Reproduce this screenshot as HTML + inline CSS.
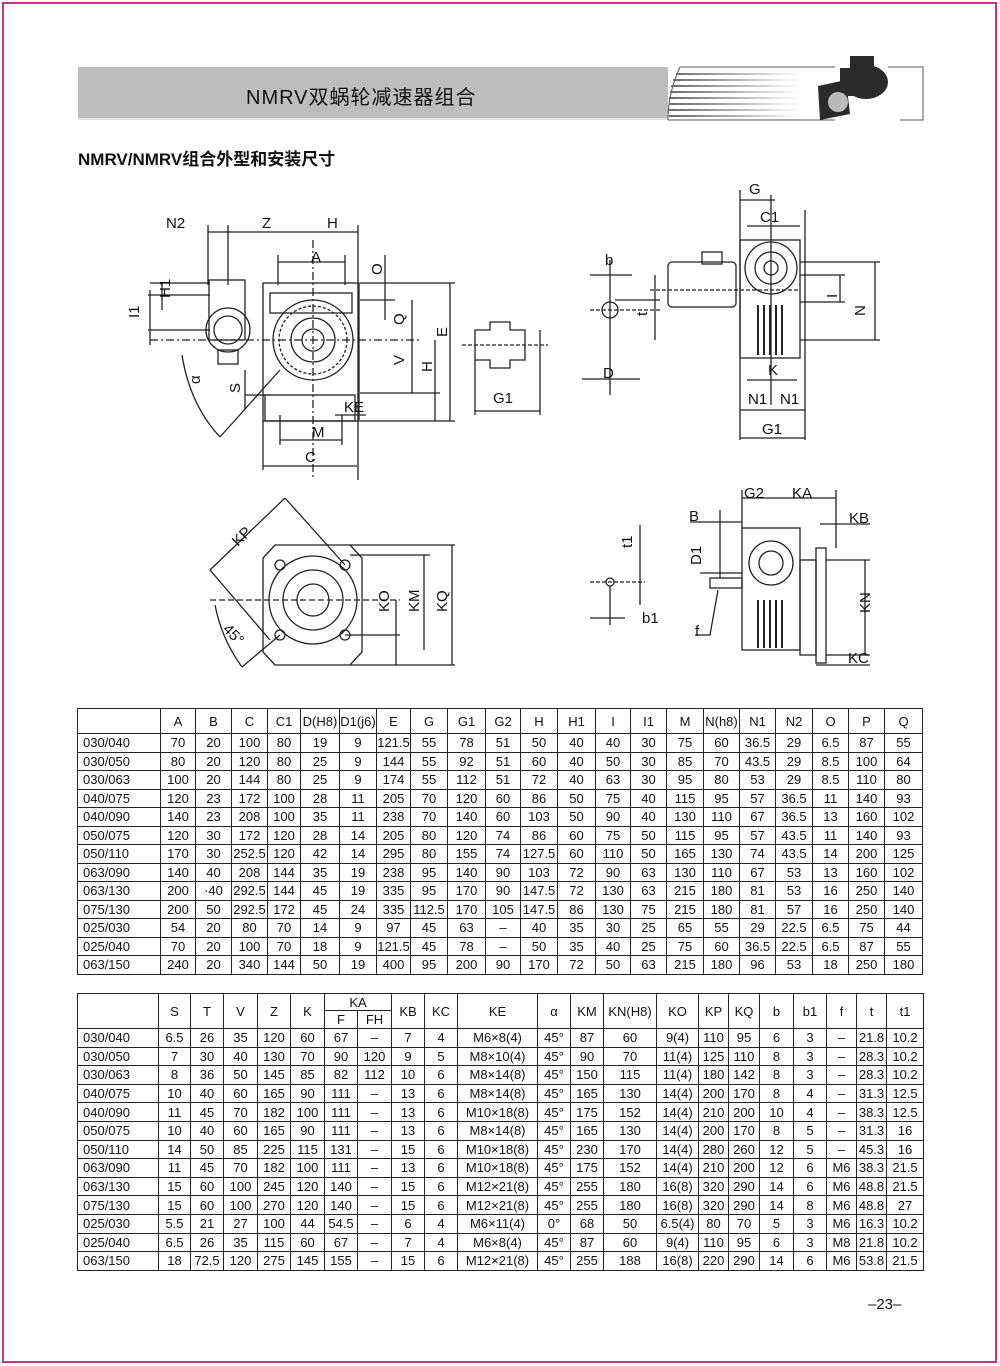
<!DOCTYPE html>
<html><head><meta charset="utf-8">
<style>
*{margin:0;padding:0;box-sizing:border-box}
body{width:1000px;height:1366px;background:#fff;position:relative;overflow:hidden;font-family:"Liberation Sans","Noto Sans CJK SC",sans-serif;color:#111}
.frame{position:absolute;left:2px;top:2px;width:995px;height:1361px;border:2px solid #c0368a}
.bar{position:absolute;left:78px;top:67px;width:590px;height:53px;background:#bdbdbd;border-bottom:2px solid #e4e4e4}
.title{position:absolute;left:246px;top:81px;font-size:20px;letter-spacing:1px}
.sub{position:absolute;left:78px;top:145px;font-size:17px;font-weight:bold}
table{position:absolute;border-collapse:collapse;table-layout:fixed;font-size:13px}
td{border:1px solid #222;text-align:center;padding:0;white-space:nowrap;overflow:hidden}
td.l{text-align:left;padding-left:5px}
#t1{left:77px;top:708px;width:845px}
#t1 tr{height:18.5px}
#t1 tr.h{height:25px}
#t2{left:77px;top:993px;width:845px}
#t2 tr{height:18.6px}
#t2 tr.h1{height:17px}
#t2 tr.h2{height:18px}
.pg{position:absolute;left:868px;top:1296px;font-size:15px}
svg{position:absolute;left:0;top:0}
svg text{font-family:"Liberation Sans",sans-serif;font-size:15px;fill:#111}
</style></head><body>
<div class="frame"></div>
<div class="bar"></div>
<div class="title">NMRV双蜗轮减速器组合</div>
<div class="sub">NMRV/NMRV组合外型和安装尺寸</div>

<svg width="1000" height="700" viewBox="0 0 1000 700">
<defs>
<linearGradient id="st" gradientUnits="userSpaceOnUse" x1="668" y1="0" x2="800" y2="0"><stop offset="0" stop-color="#666"/><stop offset="1" stop-color="#fff"/></linearGradient>
</defs>
<path d="M680 67 Q668 93 668 120" stroke="#555" fill="none"/>
<g stroke="url(#st)" stroke-width="2">
<line x1="676" y1="74" x2="800" y2="74"/><line x1="673" y1="80" x2="800" y2="80"/><line x1="671" y1="86" x2="800" y2="86"/><line x1="670" y1="92" x2="800" y2="92"/><line x1="669" y1="98" x2="800" y2="98"/><line x1="669" y1="104" x2="800" y2="104"/><line x1="669" y1="110" x2="800" y2="110"/><line x1="669" y1="116" x2="800" y2="116"/>
</g>
<line x1="680" y1="67" x2="835" y2="67" stroke="#555"/><line x1="668" y1="120" x2="835" y2="120" stroke="#555"/>
<path d="M888 67 H923 V120 H900" stroke="#555" fill="none"/>
<g fill="#2a2a2a"><rect x="850" y="56" width="24" height="14"/><ellipse cx="866" cy="82" rx="22" ry="17"/><rect x="840" y="68" width="26" height="28"/><path d="M818 86 L846 80 L850 114 L820 120Z"/><circle cx="838" cy="102" r="10" fill="#bbb"/></g>

<g stroke="#222" stroke-width="1.3" fill="none">
<rect x="263" y="283" width="96" height="138"/>
<rect x="270" y="293" width="82" height="20"/>
<circle cx="313" cy="340" r="40"/><circle cx="313" cy="340" r="34" stroke-dasharray="3 2"/><circle cx="313" cy="340" r="22"/><circle cx="313" cy="340" r="11"/>
<rect x="265" y="395" width="90" height="26"/>
<rect x="209" y="280" width="36" height="60"/><circle cx="228" cy="330" r="22"/><circle cx="228" cy="330" r="14"/>
<rect x="218" y="350" width="20" height="14"/>
<line x1="150" y1="340" x2="420" y2="340" stroke-dasharray="8 3 2 3"/>
<line x1="313" y1="240" x2="313" y2="480" stroke-dasharray="8 3 2 3"/>
<line x1="208" y1="232" x2="358" y2="232"/>
<line x1="208" y1="225" x2="208" y2="285"/><line x1="228" y1="225" x2="228" y2="285"/><line x1="358" y1="225" x2="358" y2="480"/>
<line x1="278" y1="262" x2="345" y2="262"/><line x1="278" y1="255" x2="278" y2="285"/><line x1="345" y1="255" x2="345" y2="285"/>
<line x1="360" y1="283" x2="455" y2="283"/><line x1="360" y1="300" x2="395" y2="300"/>
<line x1="385" y1="255" x2="385" y2="320"/>
<line x1="412" y1="300" x2="412" y2="393"/><line x1="360" y1="393" x2="440" y2="393"/>
<line x1="435" y1="340" x2="435" y2="421"/><line x1="450" y1="283" x2="450" y2="421"/><line x1="360" y1="421" x2="455" y2="421"/>
<line x1="162" y1="283" x2="162" y2="310"/><line x1="150" y1="283" x2="210" y2="283"/>
<line x1="148" y1="295" x2="210" y2="295"/><line x1="148" y1="330" x2="210" y2="330"/><line x1="150" y1="290" x2="150" y2="345"/>
<path d="M182 355 Q190 405 220 437"/><line x1="220" y1="437" x2="280" y2="370"/>
<line x1="245" y1="370" x2="245" y2="410"/><line x1="245" y1="395" x2="270" y2="395"/>
<line x1="280" y1="440" x2="342" y2="440"/><line x1="280" y1="415" x2="280" y2="445"/><line x1="342" y1="415" x2="342" y2="445"/>
<line x1="263" y1="466" x2="357" y2="466"/><line x1="263" y1="421" x2="263" y2="470"/>
<line x1="335" y1="415" x2="366" y2="415"/>
<path d="M475 330 H490 V322 H510 V330 H525 V360 H510 V368 H490 V360 H475Z"/>
<line x1="462" y1="345" x2="548" y2="345" stroke-dasharray="4 2"/>
<line x1="475" y1="360" x2="475" y2="415"/><line x1="540" y1="330" x2="540" y2="415"/>
<line x1="475" y1="411" x2="540" y2="411"/>
<line x1="610" y1="260" x2="610" y2="395"/><circle cx="610" cy="310" r="8"/>
<line x1="590" y1="310" x2="660" y2="310" stroke-dasharray="4 2"/>
<line x1="590" y1="275" x2="632" y2="275"/><line x1="582" y1="379" x2="640" y2="379"/>
<line x1="655" y1="275" x2="655" y2="340"/><line x1="615" y1="300" x2="660" y2="300"/>
<rect x="668" y="262" width="68" height="45" rx="4"/><rect x="702" y="252" width="20" height="12"/>
<rect x="740" y="240" width="60" height="118"/><circle cx="771" cy="268" r="26"/><circle cx="771" cy="268" r="16"/><circle cx="771" cy="268" r="7"/>
<g stroke-width="2"><line x1="758" y1="305" x2="758" y2="355"/><line x1="764" y1="305" x2="764" y2="355"/><line x1="770" y1="305" x2="770" y2="355"/><line x1="776" y1="305" x2="776" y2="355"/><line x1="782" y1="305" x2="782" y2="355"/></g>
<line x1="740" y1="190" x2="740" y2="440"/><line x1="805" y1="210" x2="805" y2="440"/>
<line x1="740" y1="200" x2="775" y2="200"/><line x1="747" y1="226" x2="800" y2="226"/>
<line x1="771" y1="195" x2="771" y2="405"/>
<line x1="800" y1="275" x2="845" y2="275"/><line x1="800" y1="302" x2="845" y2="302"/><line x1="800" y1="340" x2="880" y2="340"/>
<line x1="840" y1="275" x2="840" y2="302"/><line x1="875" y1="262" x2="875" y2="340"/><line x1="800" y1="262" x2="880" y2="262"/>
<line x1="747" y1="380" x2="797" y2="380"/><line x1="740" y1="410" x2="805" y2="410"/><line x1="740" y1="438" x2="805" y2="438"/>
<line x1="650" y1="290" x2="800" y2="290" stroke-dasharray="4 2"/>
<path d="M275 545 H350 L362 558 V652 L350 665 H275 L263 652 V558Z"/>
<circle cx="313" cy="600" r="44"/><circle cx="313" cy="600" r="30"/><circle cx="313" cy="600" r="16"/>
<circle cx="280" cy="565" r="5"/><circle cx="345" cy="565" r="5"/><circle cx="280" cy="635" r="5"/><circle cx="345" cy="635" r="5"/>
<line x1="210" y1="600" x2="400" y2="600" stroke-dasharray="6 3"/>
<line x1="210" y1="570" x2="285" y2="498"/><line x1="285" y1="498" x2="345" y2="565"/><line x1="210" y1="570" x2="270" y2="640"/>
<path d="M215 605 Q222 640 242 667"/><line x1="242" y1="667" x2="280" y2="635"/>
<line x1="350" y1="545" x2="455" y2="545"/><line x1="350" y1="555" x2="430" y2="555"/><line x1="345" y1="635" x2="400" y2="635"/><line x1="350" y1="665" x2="455" y2="665"/>
<line x1="396" y1="600" x2="396" y2="665"/><line x1="424" y1="555" x2="424" y2="650"/><line x1="452" y1="545" x2="452" y2="665"/>
<circle cx="610" cy="582" r="4"/><line x1="610" y1="586" x2="610" y2="625"/>
<line x1="590" y1="582" x2="645" y2="582" stroke-dasharray="4 2"/>
<line x1="640" y1="525" x2="640" y2="605"/><line x1="590" y1="618" x2="625" y2="618"/>
<rect x="742" y="528" width="58" height="122"/><circle cx="771" cy="563" r="22"/><circle cx="771" cy="563" r="12"/>
<g stroke-width="2"><line x1="758" y1="600" x2="758" y2="648"/><line x1="764" y1="600" x2="764" y2="648"/><line x1="770" y1="600" x2="770" y2="648"/><line x1="776" y1="600" x2="776" y2="648"/><line x1="782" y1="600" x2="782" y2="648"/></g>
<rect x="800" y="560" width="16" height="95"/><rect x="816" y="548" width="10" height="115"/>
<rect x="710" y="578" width="32" height="10"/>
<line x1="742" y1="490" x2="742" y2="528"/><line x1="836" y1="490" x2="836" y2="548"/><line x1="742" y1="498" x2="836" y2="498"/>
<line x1="690" y1="522" x2="742" y2="522"/><line x1="720" y1="510" x2="720" y2="578"/>
<line x1="820" y1="524" x2="870" y2="524"/><line x1="700" y1="573" x2="742" y2="573"/>
<line x1="826" y1="560" x2="870" y2="560"/><line x1="826" y1="655" x2="870" y2="655"/><line x1="865" y1="560" x2="865" y2="655"/>
<line x1="816" y1="665" x2="870" y2="665"/>
<path d="M718 590 L710 635 H695"/>
</g>
<g>
<text x="166" y="228">N2</text><text x="262" y="228">Z</text><text x="327" y="228">H</text>
<text x="311" y="262">A</text><text x="312" y="437">M</text><text x="305" y="462">C</text>
<text x="344" y="412">KE</text>
<text transform="translate(382,275) rotate(-90)">O</text>
<text transform="translate(404,325) rotate(-90)">Q</text>
<text transform="translate(404,365) rotate(-90)">V</text>
<text transform="translate(432,372) rotate(-90)">H</text>
<text transform="translate(447,337) rotate(-90)">E</text>
<text transform="translate(170,298) rotate(-90)">H1</text>
<text transform="translate(139,318) rotate(-90)">I1</text>
<text transform="translate(240,393) rotate(-90)">S</text>
<text transform="translate(200,384) rotate(-90)">α</text>
<text x="493" y="403">G1</text>
<text x="605" y="265">b</text><text x="603" y="378">D</text>
<text transform="translate(647,316) rotate(-90)">t</text>
<text x="749" y="194">G</text><text x="760" y="222">C1</text>
<text transform="translate(837,298) rotate(-90)">I</text>
<text transform="translate(865,316) rotate(-90)">N</text>
<text x="768" y="375">K</text><text x="748" y="404">N1</text><text x="780" y="404">N1</text>
<text x="762" y="434">G1</text>
<text transform="translate(238,547) rotate(-45)">KP</text>
<text transform="translate(222,630) rotate(45)">45°</text>
<text transform="translate(389,612) rotate(-90)">KO</text>
<text transform="translate(419,612) rotate(-90)">KM</text>
<text transform="translate(447,612) rotate(-90)">KQ</text>
<text transform="translate(632,548) rotate(-90)">t1</text>
<text x="642" y="623">b1</text>
<text x="744" y="498">G2</text><text x="792" y="498">KA</text>
<text x="689" y="521">B</text><text x="849" y="523">KB</text>
<text transform="translate(701,565) rotate(-90)">D1</text>
<text transform="translate(870,613) rotate(-90)">KN</text>
<text x="695" y="636">f</text><text x="848" y="663">KC</text>
</g>
</svg>

<table id="t1">
<colgroup><col style="width:83px"><col style="width:35px"><col style="width:36px"><col style="width:36px"><col style="width:33px"><col style="width:39px"><col style="width:37px"><col style="width:34px"><col style="width:37px"><col style="width:38px"><col style="width:35px"><col style="width:37px"><col style="width:38px"><col style="width:35px"><col style="width:36px"><col style="width:37px"><col style="width:36px"><col style="width:36px"><col style="width:37px"><col style="width:36px"><col style="width:36px"><col style="width:38px"></colgroup>
<tr class="h"><td></td><td>A</td><td>B</td><td>C</td><td>C1</td><td>D(H8)</td><td>D1(j6)</td><td>E</td><td>G</td><td>G1</td><td>G2</td><td>H</td><td>H1</td><td>I</td><td>I1</td><td>M</td><td>N(h8)</td><td>N1</td><td>N2</td><td>O</td><td>P</td><td>Q</td></tr>
<tr><td class="l">030/040</td><td>70</td><td>20</td><td>100</td><td>80</td><td>19</td><td>9</td><td>121.5</td><td>55</td><td>78</td><td>51</td><td>50</td><td>40</td><td>40</td><td>30</td><td>75</td><td>60</td><td>36.5</td><td>29</td><td>6.5</td><td>87</td><td>55</td></tr>
<tr><td class="l">030/050</td><td>80</td><td>20</td><td>120</td><td>80</td><td>25</td><td>9</td><td>144</td><td>55</td><td>92</td><td>51</td><td>60</td><td>40</td><td>50</td><td>30</td><td>85</td><td>70</td><td>43.5</td><td>29</td><td>8.5</td><td>100</td><td>64</td></tr>
<tr><td class="l">030/063</td><td>100</td><td>20</td><td>144</td><td>80</td><td>25</td><td>9</td><td>174</td><td>55</td><td>112</td><td>51</td><td>72</td><td>40</td><td>63</td><td>30</td><td>95</td><td>80</td><td>53</td><td>29</td><td>8.5</td><td>110</td><td>80</td></tr>
<tr><td class="l">040/075</td><td>120</td><td>23</td><td>172</td><td>100</td><td>28</td><td>11</td><td>205</td><td>70</td><td>120</td><td>60</td><td>86</td><td>50</td><td>75</td><td>40</td><td>115</td><td>95</td><td>57</td><td>36.5</td><td>11</td><td>140</td><td>93</td></tr>
<tr><td class="l">040/090</td><td>140</td><td>23</td><td>208</td><td>100</td><td>35</td><td>11</td><td>238</td><td>70</td><td>140</td><td>60</td><td>103</td><td>50</td><td>90</td><td>40</td><td>130</td><td>110</td><td>67</td><td>36.5</td><td>13</td><td>160</td><td>102</td></tr>
<tr><td class="l">050/075</td><td>120</td><td>30</td><td>172</td><td>120</td><td>28</td><td>14</td><td>205</td><td>80</td><td>120</td><td>74</td><td>86</td><td>60</td><td>75</td><td>50</td><td>115</td><td>95</td><td>57</td><td>43.5</td><td>11</td><td>140</td><td>93</td></tr>
<tr><td class="l">050/110</td><td>170</td><td>30</td><td>252.5</td><td>120</td><td>42</td><td>14</td><td>295</td><td>80</td><td>155</td><td>74</td><td>127.5</td><td>60</td><td>110</td><td>50</td><td>165</td><td>130</td><td>74</td><td>43.5</td><td>14</td><td>200</td><td>125</td></tr>
<tr><td class="l">063/090</td><td>140</td><td>40</td><td>208</td><td>144</td><td>35</td><td>19</td><td>238</td><td>95</td><td>140</td><td>90</td><td>103</td><td>72</td><td>90</td><td>63</td><td>130</td><td>110</td><td>67</td><td>53</td><td>13</td><td>160</td><td>102</td></tr>
<tr><td class="l">063/130</td><td>200</td><td>·40</td><td>292.5</td><td>144</td><td>45</td><td>19</td><td>335</td><td>95</td><td>170</td><td>90</td><td>147.5</td><td>72</td><td>130</td><td>63</td><td>215</td><td>180</td><td>81</td><td>53</td><td>16</td><td>250</td><td>140</td></tr>
<tr><td class="l">075/130</td><td>200</td><td>50</td><td>292.5</td><td>172</td><td>45</td><td>24</td><td>335</td><td>112.5</td><td>170</td><td>105</td><td>147.5</td><td>86</td><td>130</td><td>75</td><td>215</td><td>180</td><td>81</td><td>57</td><td>16</td><td>250</td><td>140</td></tr>
<tr><td class="l">025/030</td><td>54</td><td>20</td><td>80</td><td>70</td><td>14</td><td>9</td><td>97</td><td>45</td><td>63</td><td>–</td><td>40</td><td>35</td><td>30</td><td>25</td><td>65</td><td>55</td><td>29</td><td>22.5</td><td>6.5</td><td>75</td><td>44</td></tr>
<tr><td class="l">025/040</td><td>70</td><td>20</td><td>100</td><td>70</td><td>18</td><td>9</td><td>121.5</td><td>45</td><td>78</td><td>–</td><td>50</td><td>35</td><td>40</td><td>25</td><td>75</td><td>60</td><td>36.5</td><td>22.5</td><td>6.5</td><td>87</td><td>55</td></tr>
<tr><td class="l">063/150</td><td>240</td><td>20</td><td>340</td><td>144</td><td>50</td><td>19</td><td>400</td><td>95</td><td>200</td><td>90</td><td>170</td><td>72</td><td>50</td><td>63</td><td>215</td><td>180</td><td>96</td><td>53</td><td>18</td><td>250</td><td>180</td></tr>
</table>

<table id="t2">
<colgroup><col style="width:81px"><col style="width:32px"><col style="width:33px"><col style="width:34px"><col style="width:33px"><col style="width:34px"><col style="width:33px"><col style="width:34px"><col style="width:33px"><col style="width:33px"><col style="width:80px"><col style="width:33px"><col style="width:33px"><col style="width:53px"><col style="width:42px"><col style="width:30px"><col style="width:31px"><col style="width:34px"><col style="width:33px"><col style="width:30px"><col style="width:30px"><col style="width:37px"></colgroup>
<tr class="h1"><td rowspan="2"></td><td rowspan="2">S</td><td rowspan="2">T</td><td rowspan="2">V</td><td rowspan="2">Z</td><td rowspan="2">K</td><td colspan="2">KA</td><td rowspan="2">KB</td><td rowspan="2">KC</td><td rowspan="2">KE</td><td rowspan="2">α</td><td rowspan="2">KM</td><td rowspan="2">KN(H8)</td><td rowspan="2">KO</td><td rowspan="2">KP</td><td rowspan="2">KQ</td><td rowspan="2">b</td><td rowspan="2">b1</td><td rowspan="2">f</td><td rowspan="2">t</td><td rowspan="2">t1</td></tr>
<tr class="h2"><td>F</td><td>FH</td></tr>
<tr><td class="l">030/040</td><td>6.5</td><td>26</td><td>35</td><td>120</td><td>60</td><td>67</td><td>–</td><td>7</td><td>4</td><td>M6×8(4)</td><td>45°</td><td>87</td><td>60</td><td>9(4)</td><td>110</td><td>95</td><td>6</td><td>3</td><td>–</td><td>21.8</td><td>10.2</td></tr>
<tr><td class="l">030/050</td><td>7</td><td>30</td><td>40</td><td>130</td><td>70</td><td>90</td><td>120</td><td>9</td><td>5</td><td>M8×10(4)</td><td>45°</td><td>90</td><td>70</td><td>11(4)</td><td>125</td><td>110</td><td>8</td><td>3</td><td>–</td><td>28.3</td><td>10.2</td></tr>
<tr><td class="l">030/063</td><td>8</td><td>36</td><td>50</td><td>145</td><td>85</td><td>82</td><td>112</td><td>10</td><td>6</td><td>M8×14(8)</td><td>45°</td><td>150</td><td>115</td><td>11(4)</td><td>180</td><td>142</td><td>8</td><td>3</td><td>–</td><td>28.3</td><td>10.2</td></tr>
<tr><td class="l">040/075</td><td>10</td><td>40</td><td>60</td><td>165</td><td>90</td><td>111</td><td>–</td><td>13</td><td>6</td><td>M8×14(8)</td><td>45°</td><td>165</td><td>130</td><td>14(4)</td><td>200</td><td>170</td><td>8</td><td>4</td><td>–</td><td>31.3</td><td>12.5</td></tr>
<tr><td class="l">040/090</td><td>11</td><td>45</td><td>70</td><td>182</td><td>100</td><td>111</td><td>–</td><td>13</td><td>6</td><td>M10×18(8)</td><td>45°</td><td>175</td><td>152</td><td>14(4)</td><td>210</td><td>200</td><td>10</td><td>4</td><td>–</td><td>38.3</td><td>12.5</td></tr>
<tr><td class="l">050/075</td><td>10</td><td>40</td><td>60</td><td>165</td><td>90</td><td>111</td><td>–</td><td>13</td><td>6</td><td>M8×14(8)</td><td>45°</td><td>165</td><td>130</td><td>14(4)</td><td>200</td><td>170</td><td>8</td><td>5</td><td>–</td><td>31.3</td><td>16</td></tr>
<tr><td class="l">050/110</td><td>14</td><td>50</td><td>85</td><td>225</td><td>115</td><td>131</td><td>–</td><td>15</td><td>6</td><td>M10×18(8)</td><td>45°</td><td>230</td><td>170</td><td>14(4)</td><td>280</td><td>260</td><td>12</td><td>5</td><td>–</td><td>45.3</td><td>16</td></tr>
<tr><td class="l">063/090</td><td>11</td><td>45</td><td>70</td><td>182</td><td>100</td><td>111</td><td>–</td><td>13</td><td>6</td><td>M10×18(8)</td><td>45°</td><td>175</td><td>152</td><td>14(4)</td><td>210</td><td>200</td><td>12</td><td>6</td><td>M6</td><td>38.3</td><td>21.5</td></tr>
<tr><td class="l">063/130</td><td>15</td><td>60</td><td>100</td><td>245</td><td>120</td><td>140</td><td>–</td><td>15</td><td>6</td><td>M12×21(8)</td><td>45°</td><td>255</td><td>180</td><td>16(8)</td><td>320</td><td>290</td><td>14</td><td>6</td><td>M6</td><td>48.8</td><td>21.5</td></tr>
<tr><td class="l">075/130</td><td>15</td><td>60</td><td>100</td><td>270</td><td>120</td><td>140</td><td>–</td><td>15</td><td>6</td><td>M12×21(8)</td><td>45°</td><td>255</td><td>180</td><td>16(8)</td><td>320</td><td>290</td><td>14</td><td>8</td><td>M6</td><td>48.8</td><td>27</td></tr>
<tr><td class="l">025/030</td><td>5.5</td><td>21</td><td>27</td><td>100</td><td>44</td><td>54.5</td><td>–</td><td>6</td><td>4</td><td>M6×11(4)</td><td>0°</td><td>68</td><td>50</td><td>6.5(4)</td><td>80</td><td>70</td><td>5</td><td>3</td><td>M6</td><td>16.3</td><td>10.2</td></tr>
<tr><td class="l">025/040</td><td>6.5</td><td>26</td><td>35</td><td>115</td><td>60</td><td>67</td><td>–</td><td>7</td><td>4</td><td>M6×8(4)</td><td>45°</td><td>87</td><td>60</td><td>9(4)</td><td>110</td><td>95</td><td>6</td><td>3</td><td>M8</td><td>21.8</td><td>10.2</td></tr>
<tr><td class="l">063/150</td><td>18</td><td>72.5</td><td>120</td><td>275</td><td>145</td><td>155</td><td>–</td><td>15</td><td>6</td><td>M12×21(8)</td><td>45°</td><td>255</td><td>188</td><td>16(8)</td><td>220</td><td>290</td><td>14</td><td>6</td><td>M6</td><td>53.8</td><td>21.5</td></tr>
</table>

<div class="pg">–23–</div>
</body></html>
